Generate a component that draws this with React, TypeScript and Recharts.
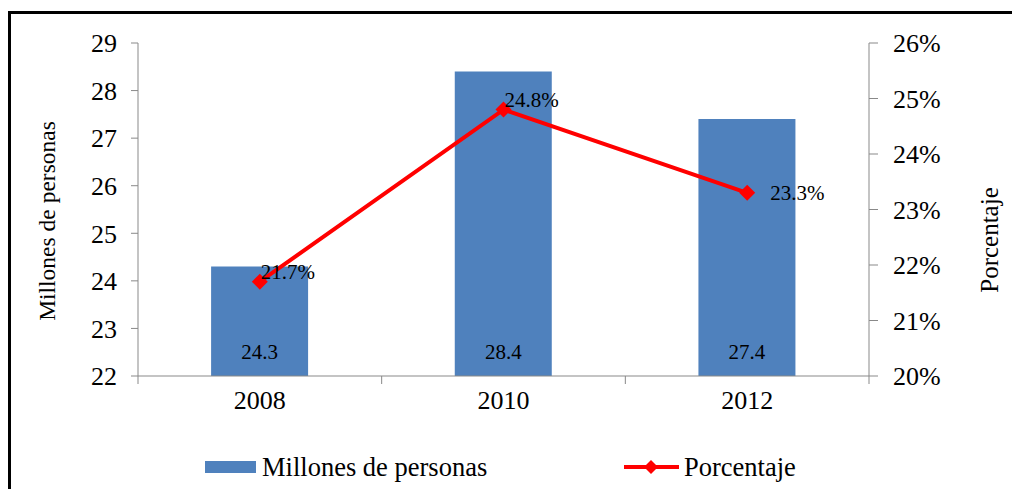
import React from 'react';
import { ComposedChart, Bar, Line, XAxis, YAxis, LabelList, Legend } from 'recharts';

const years = ['2008', '2010', '2012'];
const millones = [24.3, 28.4, 27.4];
const porcentaje = [21.7, 24.8, 23.3];
const leftTicks = [22, 23, 24, 25, 26, 27, 28, 29];
const rightTicks = [20, 21, 22, 23, 24, 25, 26];

const data = years.map((year, i) => ({ year, millones: millones[i], porcentaje: porcentaje[i] }));

const BLUE = '#4F81BD';
const RED = '#FF0000';
const AXIS = '#898989';
const FONT = '"Liberation Serif", "Times New Roman", serif';

// tick line at the category boundaries, like Excel does
const YearTick = (props: any) => {
  const { x, y, payload, index, visibleTicksCount } = props;
  const half = payload.offset || 121.8;
  return (
    <g>
      <line x1={x - half} x2={x - half} y1={y - 8} y2={y} stroke={AXIS} />
      {index === visibleTicksCount - 1 && (
        <line x1={x + half} x2={x + half} y1={y - 8} y2={y} stroke={AXIS} />
      )}
      <text x={x} y={y + 25} textAnchor="middle" fontSize={26} fontFamily={FONT} fill="#000">
        {payload.value}
      </text>
    </g>
  );
};

const Diamond = (props: any) => {
  const { cx, cy } = props;
  if (cx == null || cy == null) return null;
  const r = 8;
  return <polygon points={`${cx},${cy - r} ${cx + r},${cy} ${cx},${cy + r} ${cx - r},${cy}`} fill={RED} />;
};

const PctLabel = (props: any) => {
  const { x, y, value, index } = props;
  const last = index === porcentaje.length - 1;
  return (
    <text
      x={x + (last ? 23 : 1)}
      y={y + (last ? 0 : -10)}
      dominantBaseline="central"
      fontSize={21}
      fontFamily={FONT}
      fill="#000"
    >
      {value.toFixed(1)}%
    </text>
  );
};

const BarValueLabel = (props: any) => {
  const { x, y, width, height, value } = props;
  return (
    <text x={x + width / 2} y={y + height - 24} textAnchor="middle" dominantBaseline="central" fontSize={21} fontFamily={FONT} fill="#000">
      {value}
    </text>
  );
};

const LegendContent = () => (
  <svg width={1012} height={49} style={{ display: 'block' }}>
    <rect x={205} y={21} width={51} height={12} fill={BLUE} />
    <text x={262} y={36} fontSize={26.5} fontFamily={FONT} fill="#000">Millones de personas</text>
    <line x1={624} x2={679} y1={27} y2={27} stroke={RED} strokeWidth={4} />
    <polygon points="651,20 658,27 651,34 644,27" fill={RED} />
    <text x={684} y={36} fontSize={26.5} fontFamily={FONT} fill="#000">Porcentaje</text>
  </svg>
);

export default function App() {
  return (
    <div style={{ position: 'relative', width: 1012, height: 489, background: '#fff', overflow: 'hidden' }}>
      <style>{`body{margin:0}`}</style>
      <div
        style={{
          position: 'absolute',
          left: 8,
          top: 11,
          right: -10,
          bottom: -10,
          borderTop: '3px solid #000',
          borderLeft: '3px solid #000',
        }}
      />
      <ComposedChart
        width={1012}
        height={489}
        data={data}
        margin={{ top: 43, right: 0, left: 0, bottom: 0 }}
        barCategoryGap="30%"
        style={{ position: 'absolute', left: 0, top: 0 }}
      >
        <XAxis
          dataKey="year"
          height={113}
          stroke={AXIS}
          tickLine={false}
          tick={<YearTick />}
          interval={0}
        />
        <YAxis
          yAxisId="left"
          orientation="left"
          width={138}
          domain={[22, 29]}
          ticks={leftTicks}
          interval={0}
          stroke={AXIS}
          tickSize={7}
          tickMargin={14}
          tick={{ fontSize: 26, fontFamily: FONT, fill: '#000' }}
          label={({ viewBox }: any) => (
            <text
              transform={`translate(${viewBox.x + 47}, 221) rotate(-90)`}
              textAnchor="middle"
              dominantBaseline="central"
              fontSize={23.5}
              fontFamily={FONT}
              fill="#000"
            >
              Millones de personas
            </text>
          )}
        />
        <YAxis
          yAxisId="right"
          orientation="right"
          width={143}
          domain={[20, 26]}
          ticks={rightTicks}
          interval={0}
          stroke={AXIS}
          tickSize={9}
          tickMargin={15}
          tickFormatter={(v: number) => `${v}%`}
          tick={{ fontSize: 26, fontFamily: FONT, fill: '#000' }}
          label={({ viewBox }: any) => (
            <text
              transform={`translate(${viewBox.x + 120}, 240) rotate(-90)`}
              textAnchor="middle"
              dominantBaseline="central"
              fontSize={25}
              fontFamily={FONT}
              fill="#000"
            >
              Porcentaje
            </text>
          )}
        />
        <Legend
          layout="horizontal"
          verticalAlign="middle"
          align="center"
          content={<LegendContent />}
          wrapperStyle={{ top: 440, left: 0, width: 1012, height: 49 }}
        />
        <Bar yAxisId="left" dataKey="millones" name="Millones de personas" fill={BLUE} isAnimationActive={false}>
          <LabelList dataKey="millones" content={<BarValueLabel />} />
        </Bar>
        <Line
          yAxisId="right"
          dataKey="porcentaje"
          name="Porcentaje"
          stroke={RED}
          strokeWidth={4}
          dot={<Diamond />}
          activeDot={false}
          isAnimationActive={false}
        >
          <LabelList dataKey="porcentaje" content={<PctLabel />} />
        </Line>
      </ComposedChart>
    </div>
  );
}
